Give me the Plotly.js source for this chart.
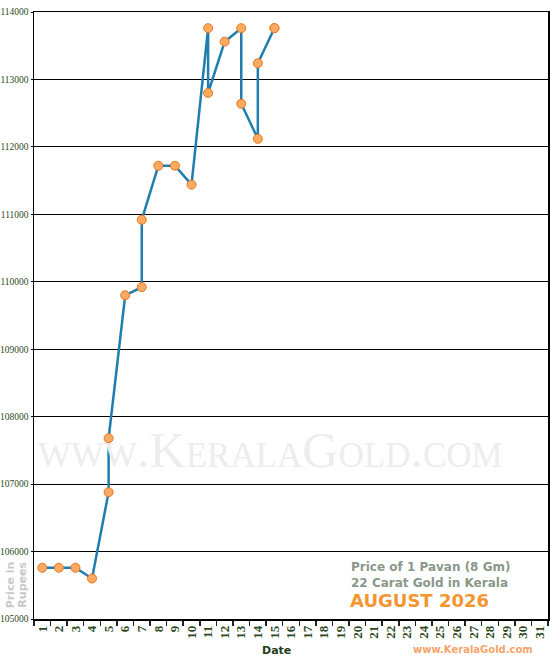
<!DOCTYPE html>
<html>
<head>
<script src="https://cdn.plot.ly/plotly-3.0.1.min.js"></script>
<style>
  body { margin: 0; background: #fff; }
  #chart { width: 550px; height: 660px; }
</style>
</head>
<body>
<div id="chart"></div>
<script>
// day labels on the x axis (1..31)
var dayLabels = [];
for (var d = 1; d <= 31; d++) dayLabels.push(String(d));

// price readings, some days have two rates
var rateDays = ['1','2','3','4','5','5','6','7','7','8','9','10','11','11','12','13','13','14','14','15','15'];
var rates = [105760,105760,105760,105600,106880,107680,109800,109920,110920,111720,111720,111440,
             113760,112800,113560,113760,112640,112120,113240,113760,113760];

var priceTicks = [105000,106000,107000,108000,109000,110000,111000,112000,113000,114000];

var trace = {
  x: rateDays,
  y: rates,
  type: 'scatter',
  mode: 'lines+markers',
  line: {color: '#1f7db0', width: 2.5},
  marker: {size: 9, color: '#fcaa62', line: {color: '#e8781e', width: 1}},
  hoverinfo: 'x+y'
};

var layout = {
  width: 550, height: 660,
  margin: {l: 34, r: 2, t: 12, b: 41},
  paper_bgcolor: '#fff',
  plot_bgcolor: '#fff',
  showlegend: false,
  xaxis: {
    type: 'category',
    categoryorder: 'array',
    categoryarray: dayLabels,
    tickvals: dayLabels,
    range: [-0.5, 30.5],
    tickson: 'boundaries',
    ticks: 'outside', ticklen: 5, tickwidth: 1.5, tickcolor: '#222',
    tickangle: -90,
    tickfont: {family: 'Liberation Serif, serif', size: 13, color: '#2b4a22', weight: 'bold'},
    showgrid: false,
    showline: true, linecolor: '#000', linewidth: 1.5, mirror: true,
    zeroline: false
  },
  yaxis: {
    range: [105000, 114000],
    tickvals: priceTicks,
    ticktext: priceTicks.map(String),
    ticks: 'outside', ticklen: 2, tickcolor: '#000',
    ticklabelstandoff: 0,
    tickfont: {family: 'Liberation Serif, serif', size: 9.5, color: '#2b4a22'},
    showgrid: true, gridcolor: '#000', gridwidth: 1.2,
    showline: true, linecolor: '#000', linewidth: 1.5, mirror: true,
    zeroline: false
  },
  annotations: [
    {text: 'www.KeralaGold.com', xref: 'paper', yref: 'paper', x: 0.46, y: 0.278,
     xanchor: 'center', yanchor: 'middle',
     showarrow: false, font: {family: 'Liberation Serif, serif', size: 50, color: '#ededed', variant: 'small-caps'}},
    {text: 'Price in', xref: 'paper', yref: 'paper', x: -0.046, y: 0.056, textangle: -90,
     xanchor: 'center', yanchor: 'middle',
     showarrow: false, font: {family: 'DejaVu Sans, Verdana, sans-serif', size: 11, color: '#c8c8c8', weight: 'bold'}},
    {text: 'Rupees', xref: 'paper', yref: 'paper', x: -0.024, y: 0.056, textangle: -90,
     xanchor: 'center', yanchor: 'middle',
     showarrow: false, font: {family: 'DejaVu Sans, Verdana, sans-serif', size: 11, color: '#c8c8c8', weight: 'bold'}},
    {text: 'Price of 1 Pavan (8 Gm)<br>22 Carat Gold in Kerala', xref: 'paper', yref: 'paper',
     x: 0.613, y: 0.072, xanchor: 'left', yanchor: 'middle', align: 'left',
     showarrow: false, font: {family: 'DejaVu Sans, Verdana, sans-serif', size: 12, color: '#8a978a', weight: 'bold'}},
    {text: 'AUGUST 2026', xref: 'paper', yref: 'paper', x: 0.611, y: 0.03, xanchor: 'left', yanchor: 'middle',
     showarrow: false, font: {family: 'DejaVu Sans, Verdana, sans-serif', size: 18, color: '#f39632', weight: 'bold'}},
    {text: 'Date', xref: 'paper', yref: 'paper', x: 0.472, y: -0.052, xanchor: 'center', yanchor: 'middle',
     showarrow: false, font: {family: 'DejaVu Sans, Verdana, sans-serif', size: 11, color: '#1e3d16', weight: 'bold'}},
    {text: 'www.KeralaGold.com', xref: 'paper', yref: 'paper', x: 0.975, y: -0.05, xanchor: 'right', yanchor: 'middle',
     showarrow: false, font: {family: 'DejaVu Sans, Verdana, sans-serif', size: 10, color: '#f5a46a', weight: 'bold'}}
  ]
};

Plotly.newPlot('chart', [trace], layout, {displayModeBar: false, staticPlot: true});
</script>
</body>
</html>
